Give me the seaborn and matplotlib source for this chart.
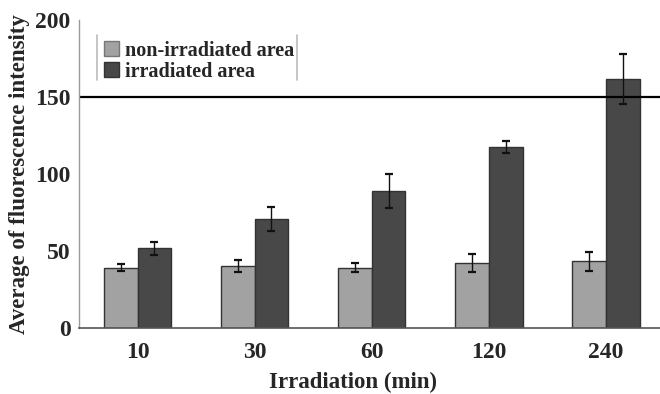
import matplotlib
matplotlib.use("Agg")
import matplotlib.pyplot as plt
import seaborn as sns
import pandas as pd
import numpy as np
from matplotlib.patches import Patch

categories = ["10", "30", "60", "120", "240"]
non_irr = [39, 40, 39, 42, 43]
non_irr_err = [2.5, 4, 3, 6, 6]
irr = [51.5, 70.5, 89, 117.5, 161.5]
irr_err = [4, 8, 11, 4, 16]
series = ["non-irradiated area", "irradiated area"]
colors = ["#a2a2a2", "#484848"]

df = pd.DataFrame({
    "time": categories * 2,
    "value": non_irr + irr,
    "err": non_irr_err + irr_err,
    "series": [series[0]] * 5 + [series[1]] * 5,
})

sns.set_style("white")
plt.rcParams["font.family"] = ["Liberation Serif", "DejaVu Serif"]
plt.rcParams["font.weight"] = "bold"

fig = plt.figure(figsize=(6.6, 3.94), dpi=100)
ax = fig.add_axes([0.1197, 0.1683, 0.8865, 0.7817])

sns.barplot(data=df, x="time", y="value", hue="series", order=categories,
            hue_order=series, palette=colors, width=0.58, gap=0,
            errorbar=None, edgecolor="#333333", linewidth=1.0,
            saturation=1, ax=ax, legend=False)

# error bars at bar centres
bars = [p for p in ax.patches]
errs = non_irr_err + irr_err
vals = non_irr + irr
for p, v, e in zip(bars, vals, errs):
    cx = p.get_x() + p.get_width() / 2
    ax.errorbar(cx, v, yerr=e, fmt="none", ecolor="#111111",
                elinewidth=1.0, capsize=3, capthick=1.6, zorder=5)

ax.set_ylim(0, 200)
ax.set_xlim(-0.5, 4.5)
ax.set_yticks([0, 50, 100, 150, 200])
ax.axhline(150, color="black", lw=1.6, zorder=1)

for s in ["top", "right"]:
    ax.spines[s].set_visible(False)
ax.spines["left"].set_color("#9a9a9a")
ax.spines["left"].set_linewidth(1.0)
ax.spines["bottom"].set_color("#555555")
ax.spines["bottom"].set_linewidth(1.2)

ax.tick_params(axis="y", length=0, labelsize=17, pad=6)
ax.tick_params(axis="x", length=0, labelsize=17, pad=10)
for lab in ax.get_xticklabels() + ax.get_yticklabels():
    lab.set_fontweight("bold")

# small boundary ticks between groups
ax.set_xticks(np.arange(0.5, 4.5, 1.0), minor=True)
ax.tick_params(axis="x", which="minor", direction="in", length=3,
               color="#bbbbbb", width=1)

ax.set_xlabel("Irradiation (min)", fontsize=16.5, fontweight="bold")
ax.xaxis.set_label_coords(0.468, -0.142)
ax.set_ylabel("Average of fluorescence intensity", fontsize=16.5,
              fontweight="bold", labelpad=4)

handles = [Patch(facecolor=colors[0], edgecolor="#777777", label=series[0]),
           Patch(facecolor=colors[1], edgecolor="#333333", label=series[1])]
leg = ax.legend(handles=handles, loc="upper left",
                bbox_to_anchor=(0.043, 0.932), frameon=False,
                prop={"size": 14.5, "weight": "bold"},
                handlelength=0.75, handleheight=0.75, handletextpad=0.3,
                labelspacing=0.05, borderaxespad=0, borderpad=0)
# side rules of the legend box
ax.plot([0.031, 0.031], [0.804, 0.95], transform=ax.transAxes,
        color="#bbbbbb", lw=1.2, clip_on=False)
ax.plot([0.373, 0.373], [0.804, 0.95], transform=ax.transAxes,
        color="#bbbbbb", lw=1.2, clip_on=False)

fig.savefig("out.png", dpi=100)
